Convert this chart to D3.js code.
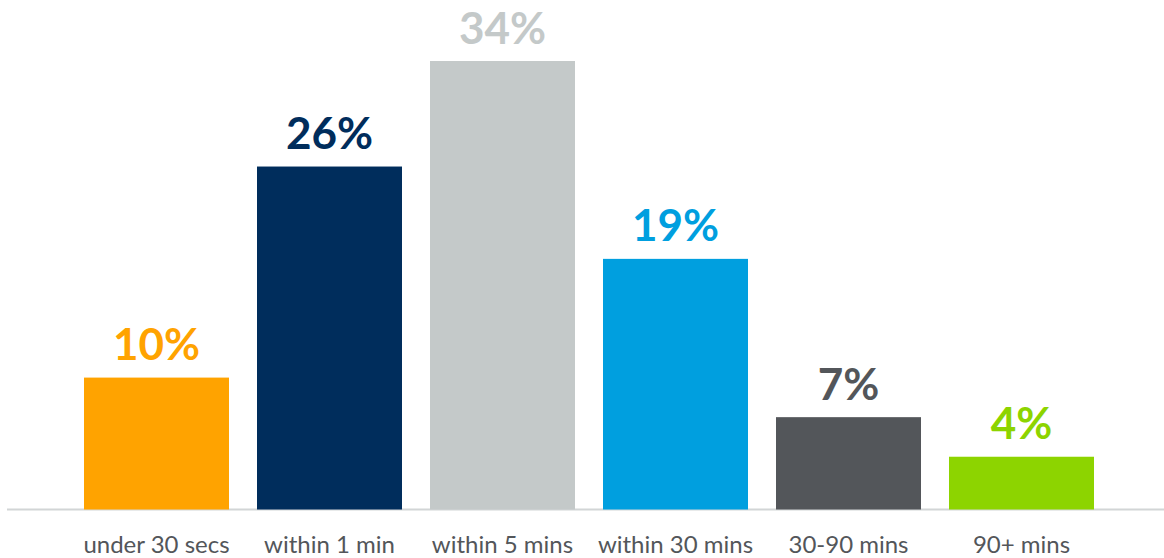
<!DOCTYPE html>
<html>
<head>
<meta charset="utf-8">
<script src="https://cdn.jsdelivr.net/npm/d3@7"></script>
<style>
  body { margin: 0; background: #fff; }
  svg { display: block; font-family: Lato, "Open Sans", sans-serif; }
</style>
</head>
<body>
<svg id="chart" width="1164" height="558"></svg>
<script>
// chart data
const categories = ["under 30 secs", "within 1 min", "within 5 mins", "within 30 mins", "30-90 mins", "90+ mins"];
const values = [10, 26, 34, 19, 7, 4];
const colors = ["#ffa300", "#002d5c", "#c4c9c9", "#009fdf", "#53565a", "#8dd400"];

const svg = d3.select("#chart");

const x = d3.scaleBand()
  .domain(categories)
  .range([70, 1108])
  .paddingInner(28 / 173)
  .paddingOuter(14 / 173);

const y = d3.scaleLinear()
  .domain([0, 34])
  .range([509.5, 61]);

// baseline
svg.append("line")
  .attr("x1", 7).attr("x2", 1164)
  .attr("y1", 509.5).attr("y2", 509.5)
  .attr("stroke", "#d2d5d6")
  .attr("stroke-width", 2);

const rows = categories.map((c, i) => ({ cat: c, val: values[i], color: colors[i] }));

svg.selectAll("rect.bar")
  .data(rows)
  .join("rect")
  .attr("class", "bar")
  .attr("x", d => x(d.cat))
  .attr("width", x.bandwidth())
  .attr("y", d => y(d.val))
  .attr("height", d => y(0) - y(d.val))
  .attr("fill", d => d.color);

// value labels
svg.selectAll("text.val")
  .data(rows)
  .join("text")
  .attr("class", "val")
  .attr("x", d => x(d.cat) + x.bandwidth() / 2)
  .attr("y", d => y(d.val) - 17.5)
  .attr("text-anchor", "middle")
  .attr("font-size", 44)
  .attr("font-weight", "bold")
  .attr("fill", d => d.color)
  .text(d => d.val + "%");

// category labels
svg.selectAll("text.cat")
  .data(rows)
  .join("text")
  .attr("class", "cat")
  .attr("x", d => x(d.cat) + x.bandwidth() / 2)
  .attr("y", 553)
  .attr("text-anchor", "middle")
  .attr("font-size", 24)
  .attr("fill", "#53565a")
  .text(d => d.cat);
</script>
</body>
</html>
